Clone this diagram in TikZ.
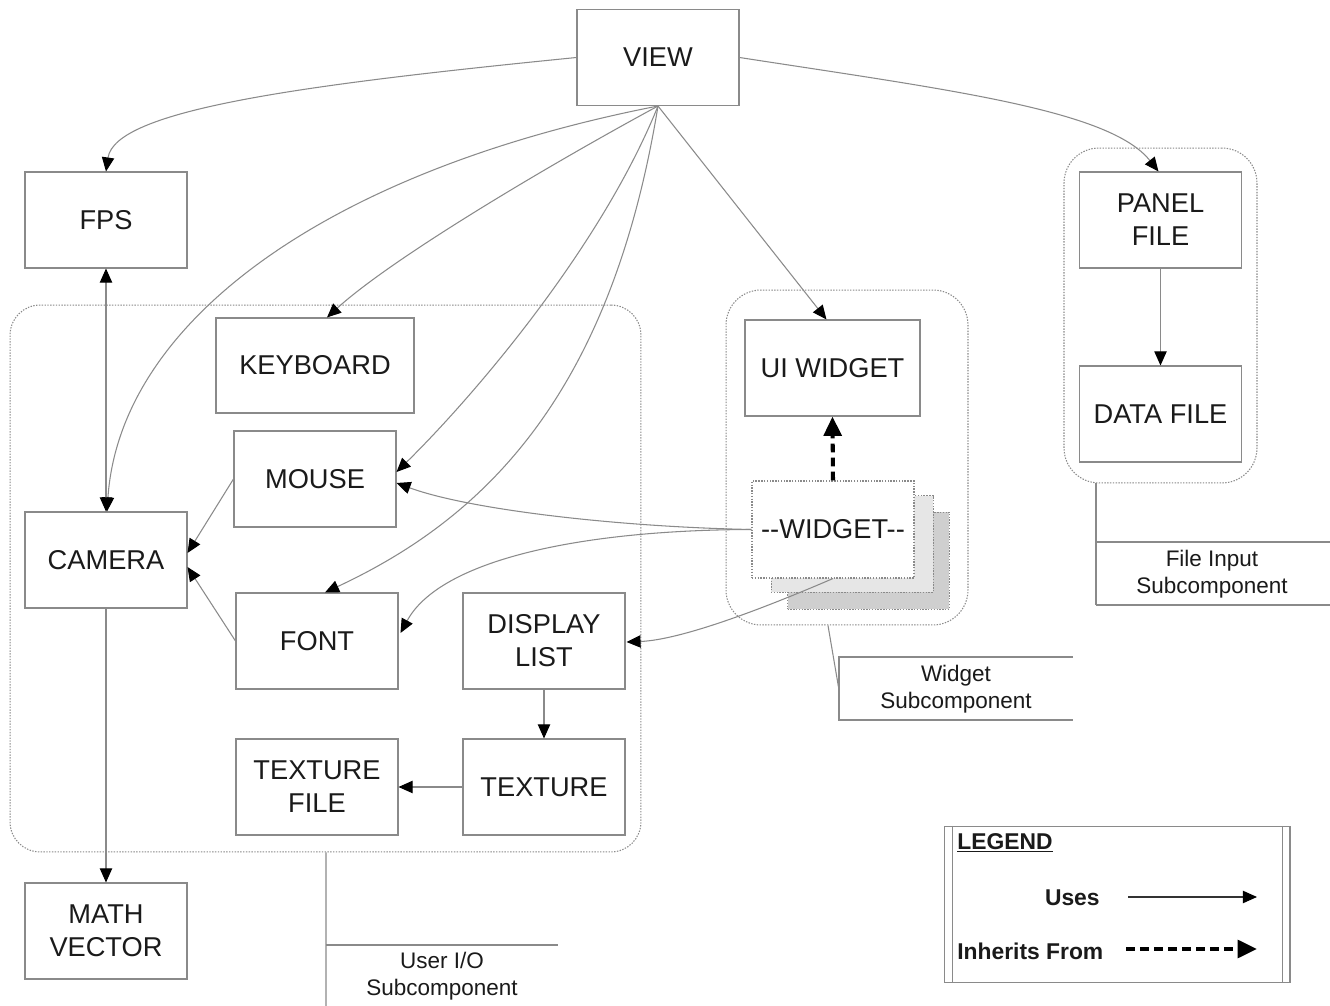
\documentclass[tikz,border=0pt]{standalone}
\usepackage{fontspec}
\setmainfont{Liberation Sans}
\usetikzlibrary{arrows.meta,calc}

\definecolor{edge}{HTML}{8A8A8A}
\definecolor{ink}{HTML}{1A1A1A}
\definecolor{sheetA}{HTML}{E6E6E6}
\definecolor{sheetB}{HTML}{CFCFCF}

\begin{document}
\begin{tikzpicture}[x=0.02cm,y=-0.02cm,
  box/.style={draw=edge, line width=0.6pt, fill=white, minimum width=3.24cm,
    minimum height=1.92cm, inner sep=0pt, align=center,
    font=\fontsize{15.5}{18.7}\selectfont, text=ink},
  sheet/.style={draw=edge, line width=0.5pt, dash pattern=on 0.8pt off 0.8pt,
    minimum width=3.24cm, minimum height=1.94cm, inner sep=0pt},
  group/.style={draw=edge, line width=0.6pt, dash pattern=on 0.8pt off 0.8pt,
    rounded corners=0.6cm, inner sep=0pt},
  tipA/.tip={Triangle[length=8pt,width=7pt,black]},
  uses/.style={draw=edge, line width=0.6pt, -tipA},
  usesboth/.style={draw=edge, line width=0.6pt, tipA-tipA},
  inherits/.style={draw=black, line width=2.3pt, dash pattern=on 5pt off 3pt,
    -{Triangle[length=11pt,width=10pt]}},
  note/.style={font=\fontsize{12.8}{15.3}\selectfont, text=ink, align=center, inner sep=0pt},
  legendtext/.style={font=\bfseries\fontsize{13}{15}\selectfont, text=ink, inner sep=0pt},
  callout/.style={draw=edge, line width=0.6pt},
]
\fill[white] (0,0) rectangle (1330,1006);
\useasboundingbox (0,0) rectangle (1330,1006);

% subcomponent groups
\node[group, minimum width=12.62cm, minimum height=10.94cm] (userio) at (325.5,578.5) {};
\node[group, minimum width=4.84cm, minimum height=6.7cm, rounded corners=0.7cm] (widgetgrp) at (847,457.5) {};
\node[group, minimum width=3.86cm, minimum height=6.7cm, rounded corners=0.7cm] (filegrp) at (1160.5,315.5) {};

% components
\node[box] (view) at (658,57.5) {VIEW};
\node[box] (fps) at (106,220) {FPS};
\node[box] (panel) at (1160.5,220) {PANEL\\FILE};
\node[box] (datafile) at (1160.5,414) {DATA FILE};
\node[box, minimum width=3.96cm, minimum height=1.9cm] (keyboard) at (315,365.5) {KEYBOARD};
\node[box, minimum width=3.5cm] (uiwidget) at (832.5,368) {UI WIDGET};
\node[box] (mouse) at (315,479) {MOUSE};
\node[box] (camera) at (106,560) {CAMERA};
\node[box] (font) at (317,641) {FONT};
\node[box] (displaylist) at (544,641) {DISPLAY\\LIST};
\node[box] (texturefile) at (317,787) {TEXTURE\\FILE};
\node[box] (texture) at (544,787) {TEXTURE};
\node[box] (mathvector) at (106,931) {MATH\\VECTOR};

% stacked widget instances
\node[sheet, fill=sheetB] (widgetback) at (868.5,560.5) {};
\node[sheet, fill=sheetA] (widgetmid) at (852,544) {};
\node[box, draw=edge, dash pattern=on 0.8pt off 0.8pt, minimum height=1.94cm] (widget) at (833,529.5) {-{}-WIDGET-{}-};

% uses relations from the view
\draw[uses] (view.west) .. controls (300,85) and (115,110) .. (fps.north);
\draw[uses] (view.east) .. controls (950,90) and (1110,110) .. ($(panel.north)+(-2,0)$);
\draw[uses] (view.south) .. controls (330,170) and (120,320) .. ($(camera.north)+(1,0)$);
\draw[uses] (view.south) .. controls (540,170) and (390,260) .. ($(keyboard.north)+(12,0)$);
\draw[uses] (view.south) .. controls (600,250) and (470,400) .. ($(mouse.east)+(0,-7)$);
\draw[uses] (view.south) .. controls (610,400) and (480,520) .. ($(font.north)+(8,0)$);
\draw[uses] (view.south) -- ($(uiwidget.north)+(-6,0)$);

% uses relations between components
\draw[usesboth] (fps.south) -- (camera.north);
\draw[uses] (camera.south) -- (mathvector.north);
\draw[uses] (mouse.west) -- ($(camera.east)+(0,-7)$);
\draw[uses] (font.west) -- ($(camera.east)+(0,7)$);
\draw[uses] (panel.south) -- (datafile.north);
\draw[uses] (displaylist.south) -- (texture.north);
\draw[uses] (texture.west) -- (texturefile.east);
\draw[uses] (widget.west) .. controls (620,527) and (470,510) .. ($(mouse.east)+(0,4)$);
\draw[uses] (widget.west) .. controls (580,530) and (440,560) .. ($(font.east)+(2,-8)$);
\draw[uses] (widget.south) .. controls (760,610) and (680,640) .. ($(displaylist.east)+(1,1)$);

% inheritance
\draw[inherits] (widget.north) -- (uiwidget.south);

% subcomponent callouts
\node[note] (uionote) at (442,976) {User I/O\\Subcomponent};
\draw[callout] ($(userio.south)+(0.5,0)$) -- (326,1006);
\draw[callout] (326,945) -- (558,945);

\node[note] (widgetnote) at (956,689) {Widget\\Subcomponent};
\draw[callout] ($(widgetgrp.south)+(-19,0)$) -- (839,690);
\draw[callout] (1073,657) -- (839,657) -- (839,720) -- (1073,720);

\node[note] (filenote) at (1212,574) {File Input\\Subcomponent};
\draw[callout] ($(filegrp.south)+(-64.5,0)$) -- (1096,605);
\draw[callout] (1096,542) -- (1330,542);
\draw[callout] (1096,605) -- (1330,605);

% legend
\node[draw=edge, line width=0.6pt, minimum width=6.92cm, minimum height=3.12cm, inner sep=0pt] (legend) at (1117,904.5) {};
\draw[edge, line width=0.6pt] ($(legend.north west)+(9,0)$) -- ($(legend.south west)+(9,0)$);
\draw[edge, line width=0.6pt] ($(legend.north east)+(-8,0)$) -- ($(legend.south east)+(-8,0)$);
\node[legendtext, anchor=west] (legendtitle) at (957,843) {\underline{LEGEND}};
\node[legendtext, anchor=east] (usestext) at (1100,898) {Uses};
\node[legendtext, anchor=west] (inheritstext) at (957,951) {Inherits From};
\coordinate (usesA) at (1128,897);
\coordinate (usesB) at (1257,897);
\coordinate (inhA) at (1126,949);
\coordinate (inhB) at (1257,949);
\draw[uses, draw=black!80] (usesA) -- (usesB);
\draw[inherits] (inhA) -- (inhB);
\end{tikzpicture}
\end{document}
